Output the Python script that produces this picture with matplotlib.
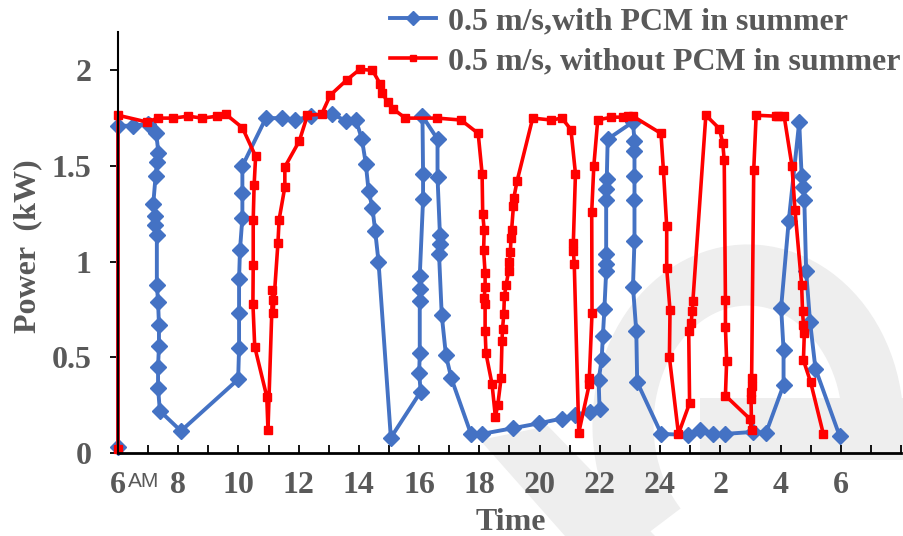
import matplotlib
matplotlib.use('Agg')
import matplotlib.pyplot as plt
from matplotlib.patches import Arc, Polygon, Rectangle
from matplotlib.transforms import IdentityTransform

# 数据：带 PCM（蓝）
with_x = [6.0, 6.0, 6.5, 6.99, 7.27, 7.34, 7.30, 7.25, 7.17, 7.23, 7.23, 7.29, 7.29, 7.33, 7.36, 7.36,
          7.33, 7.33, 7.39, 8.09, 9.99, 10.02, 10.02, 10.02, 10.05, 10.13, 10.13, 10.13, 10.91, 11.44,
          11.88, 12.4, 13.12, 13.58, 13.9, 14.1, 14.23, 14.32, 14.45, 14.54, 14.65, 15.06, 16.05, 16.0,
          16.02, 16.02, 16.02, 16.02, 16.13, 16.13, 16.11, 16.61, 16.61, 16.69, 16.69, 16.66, 16.75,
          16.89, 17.07, 17.72, 18.09, 19.13, 19.97, 20.74, 21.19, 21.68, 21.99, 21.96, 22.06, 22.1,
          22.15, 22.21, 22.21, 22.21, 22.21, 22.21, 22.23, 22.26, 23.1, 23.15, 23.15, 23.15, 23.15,
          23.15, 23.1, 23.21, 23.24, 24.04, 24.92, 25.33, 25.77, 26.17, 27.08, 27.52, 28.1, 28.1,
          28.02, 28.27, 28.62, 28.7, 28.76, 28.79, 28.85, 28.98, 29.16, 29.96]
with_y = [0.03, 1.71, 1.71, 1.72, 1.67, 1.57, 1.52, 1.45, 1.30, 1.24, 1.19, 1.14, 0.88, 0.79, 0.67, 0.56,
          0.45, 0.34, 0.22, 0.115, 0.385, 0.55, 0.73, 0.91, 1.06, 1.23, 1.36, 1.50, 1.75, 1.75,
          1.74, 1.76, 1.77, 1.735, 1.74, 1.64, 1.51, 1.37, 1.28, 1.16, 1.0, 0.08, 0.32, 0.42,
          0.52, 0.795, 0.855, 0.925, 1.325, 1.46, 1.76, 1.64, 1.44, 1.14, 1.09, 1.04, 0.72,
          0.51, 0.39, 0.10, 0.10, 0.13, 0.155, 0.18, 0.20, 0.215, 0.23, 0.38, 0.49, 0.61,
          0.75, 0.95, 0.99, 1.04, 1.32, 1.38, 1.43, 1.64, 1.73, 1.63, 1.58, 1.45, 1.32,
          1.11, 0.87, 0.635, 0.37, 0.10, 0.094, 0.12, 0.10, 0.10, 0.11, 0.106, 0.355, 0.54,
          0.76, 1.21, 1.73, 1.45, 1.39, 1.32, 0.95, 0.685, 0.44, 0.09]

# 数据：无 PCM（红）
without_x = [6.0, 6.0, 6.95, 7.34, 7.83, 8.33, 8.8, 9.3, 9.58, 10.13, 10.57, 10.52, 10.49, 10.49, 10.48,
             10.54, 10.94, 10.98, 11.13, 11.15, 11.15, 11.31, 11.35, 11.54, 11.54, 12.02, 12.29, 12.76,
             13.05, 13.6, 14.03, 14.45, 14.7, 14.78, 14.95, 15.12, 15.54, 16.6, 17.39, 17.96, 18.09,
             18.11, 18.16, 18.14, 18.19, 18.19, 18.16, 18.19, 18.19, 18.22, 18.42, 18.53, 18.61, 18.72,
             18.75, 18.77, 18.81, 18.83, 18.89, 18.97, 19.0, 19.03, 19.05, 19.07, 19.13, 19.14, 19.25,
             19.77, 20.39, 20.74, 21.04, 21.19, 21.12, 21.12, 21.15, 21.3, 21.65, 21.65, 21.74, 21.73,
             21.8, 21.93, 22.38, 22.76, 22.93, 23.1, 24.03, 24.11, 24.22, 24.22, 24.33, 24.31, 24.61,
             24.98, 24.95, 25.03, 25.07, 25.09, 25.52, 25.97, 26.08, 26.13, 26.17, 26.17, 26.21, 26.17,
             26.97, 27.04, 27.02, 27.02, 27.04, 27.04, 27.11, 27.19, 27.86, 27.9, 28.12, 28.38, 28.48,
             28.7, 28.73, 28.76, 28.79, 28.76, 29.0, 29.42]
without_y = [0.02, 1.765, 1.73, 1.75, 1.75, 1.76, 1.75, 1.76, 1.77, 1.70, 1.55, 1.40, 1.22, 0.98, 0.78,
             0.555, 0.295, 0.12, 0.85, 0.80, 0.73, 1.095, 1.22, 1.39, 1.495, 1.63, 1.765, 1.77,
             1.87, 1.95, 2.005, 2.0, 1.93, 1.88, 1.835, 1.80, 1.75, 1.75, 1.74, 1.67, 1.46,
             1.25, 1.165, 1.06, 0.94, 0.87, 0.81, 0.78, 0.64, 0.52, 0.36, 0.19, 0.25, 0.39,
             0.585, 0.65, 0.725, 0.82, 0.88, 0.95, 1.0, 1.05, 1.125, 1.165, 1.29, 1.33, 1.42,
             1.75, 1.74, 1.75, 1.69, 1.46, 1.10, 1.055, 0.99, 0.106, 0.36, 0.39, 0.73, 1.26,
             1.50, 1.74, 1.755, 1.755, 1.76, 1.76, 1.67, 1.48, 1.185, 0.965, 0.745, 0.50, 0.10,
             0.26, 0.64, 0.68, 0.74, 0.795, 1.765, 1.695, 1.62, 1.53, 0.80, 0.66, 0.48, 0.30,
             0.18, 0.12, 0.28, 0.32, 0.35, 0.39, 1.48, 1.765, 1.76, 1.76, 1.76, 1.50, 1.27,
             0.88, 0.74, 0.67, 0.625, 0.485, 0.37, 0.10]

tick_pos = [6, 8, 10, 12, 14, 16, 18, 20, 22, 24, 26, 28, 30]
tick_lab = ['6', '8', '10', '12', '14', '16', '18', '20', '22', '24', '2', '4', '6']
ytick_pos = [0, 0.5, 1, 1.5, 2]
ytick_lab = ['0', '0.5', '1', '1.5', '2']

label_with = '0.5 m/s,with PCM in summer'
label_without = '0.5 m/s, without PCM in summer'

GRAY = '#595959'
BLUE = '#4472C4'
RED = '#FF0000'
SERIF = 'Liberation Serif'
FS = 23

fig = plt.figure(figsize=(9.04, 5.36), dpi=100)
H = 536

# 背景水印（浅灰）
wm = '#EEEEEE'
fig.add_artist(Polygon([(480, H - 440), (548, H - 426), (655, H - 536), (565, H - 536)],
                       closed=True, facecolor=wm, edgecolor='none',
                       transform=IdentityTransform(), zorder=-5))
fig.add_artist(Arc((748, H - 425), 250, 300, theta1=5, theta2=228, lw=44, color=wm,
                   transform=IdentityTransform(), zorder=-5))
fig.add_artist(Rectangle((700, H - 460), 204, 62, facecolor=wm, edgecolor='none',
                         transform=IdentityTransform(), zorder=-5))

ax = fig.add_axes([118 / 904, 1 - 453 / 536, (901 - 118) / 904, (453 - 32) / 536])
ax.set_facecolor('none')

l1, = ax.plot(with_x, with_y, color=BLUE, lw=2.8, marker='D', ms=8.5, mec=BLUE, mfc=BLUE,
              clip_on=False, label=label_with)
l2, = ax.plot(without_x, without_y, color=RED, lw=2.6, marker='s', ms=5.5, mec=RED, mfc=RED,
              clip_on=False, label=label_without)

ax.set_xlim(6, 32)
ax.set_ylim(0, 2.2)

ax.spines['top'].set_visible(False)
ax.spines['right'].set_visible(False)
ax.spines['left'].set_linewidth(1.5)
ax.spines['bottom'].set_linewidth(2)

ax.set_xticks(tick_pos)
ax.set_xticks(range(6, 33), minor=True)
ax.set_xticklabels(tick_lab)
ax.set_yticks(ytick_pos)
ax.set_yticklabels(ytick_lab)
ax.tick_params(axis='x', which='both', direction='in', length=6, width=1.3, pad=13)
ax.tick_params(axis='y', direction='out', length=6, width=1.3, pad=13)
for lab in ax.get_xticklabels() + ax.get_yticklabels():
    lab.set_fontfamily(SERIF)
    lab.set_fontweight('bold')
    lab.set_fontsize(FS)
    lab.set_color(GRAY)

fig.text(128 / 904, 1 - 472 / H, 'AM', family='Liberation Sans', fontsize=15, color=GRAY,
         ha='left', va='top')
fig.text(511 / 904, 1 - 530 / H, 'Time', family=SERIF, fontweight='bold', fontsize=FS,
         color=GRAY, ha='center', va='baseline')
fig.text(28 / 904, 1 - 246 / H, 'Power  (kW)', family=SERIF, fontweight='bold', fontsize=FS,
         color=GRAY, ha='center', va='center', rotation=90)

leg = ax.legend(handles=[l1, l2], loc='upper right', bbox_to_anchor=(1.0, 0.993),
                bbox_transform=fig.transFigure, frameon=False, handlelength=1.45,
                handletextpad=0.37, labelspacing=0.33, borderpad=0.1, borderaxespad=0.0,
                prop={'family': SERIF, 'weight': 'bold', 'size': 23}, markerscale=0.8)
for t in leg.get_texts():
    t.set_color(GRAY)

fig.savefig('out.png', dpi=100)
